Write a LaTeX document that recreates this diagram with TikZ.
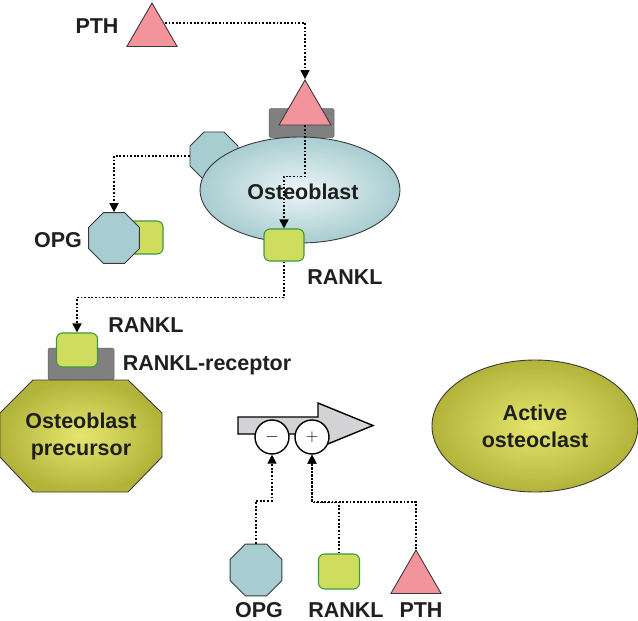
\documentclass[tikz,border=0pt]{standalone}
\usepackage{fontspec}
\setmainfont{Liberation Sans}
\usetikzlibrary{shapes.geometric,arrows.meta,calc}
\definecolor{pinkf}{HTML}{F3939B}
\definecolor{tealf}{HTML}{A8CDD1}
\definecolor{teali}{HTML}{EDF5F6}
\definecolor{greenf}{HTML}{CEDD5E}
\definecolor{greend}{HTML}{3C9A3C}
\definecolor{olivef}{HTML}{B2B43A}
\definecolor{olivei}{HTML}{E6E66E}
\definecolor{grayf}{HTML}{808080}
\definecolor{arrowf}{HTML}{D3D3D5}
\definecolor{edge}{HTML}{3A3A3A}
\tikzset{
  lbl/.style={font=\fontsize{21.5}{27}\selectfont\bfseries, text=black!88, inner sep=0pt, align=center},
  tri/.style={regular polygon, regular polygon sides=3, minimum size=58pt, inner sep=0pt, fill=pinkf, draw=edge, line width=0.9pt},
  octa/.style={regular polygon, regular polygon sides=8, inner sep=0pt, fill=tealf, draw=edge, line width=0.9pt},
  rsq/.style={rectangle, rounded corners=6pt, fill=greenf, draw=greend, line width=1.1pt, inner sep=0pt},
  recep/.style={rectangle, rounded corners=1.5pt, fill=grayf, draw=grayf!80!black, line width=0.5pt, inner sep=0pt},
  conn/.style={draw=black, line width=1.7pt, dash pattern=on 1.8pt off 1.8pt, -{Triangle[length=9pt,width=9pt]}},
  sign/.style={circle, fill=white, draw=black, line width=1.4pt, minimum size=34pt, inner sep=0pt, font=\fontsize{17}{17}\selectfont},
}
\begin{document}
\begin{tikzpicture}[x=1pt,y=-1pt]
\useasboundingbox (0,0) rectangle (638,621);
\fill[white] (0,0) rectangle (638,621);

% ---------- top part: osteoblast ----------
\node[tri] (pth1) at (152,32) {};
\node[lbl] (pthlbl1) at (97,26) {PTH};

\node[recep, minimum width=65pt, minimum height=29pt] (rec1) at (301.5,123) {};
\node[octa, minimum size=52pt] (opg1) at (214,156) {};
\node[ellipse, minimum width=200pt, minimum height=106pt, inner sep=0pt, draw=edge, line width=0.9pt, inner color=teali, outer color=tealf] (ob) at (300,190) {};
\node[lbl] (oblbl) at (303,192) {Osteoblast};
\node[tri, minimum size=60pt] (pth2) at (305,110) {};

\node[rsq, minimum width=38pt, minimum height=33pt] (opgr) at (144,237.5) {};
\node[octa, minimum size=55pt] (opg2) at (114,238) {};
\node[lbl] (opglbl1) at (58,240) {OPG};

\node[rsq, minimum width=40pt, minimum height=32pt] (rankl1) at (284,245) {};
\node[lbl] (rankllbl1) at (345,277) {RANKL};

% ---------- precursor ----------
\node[recep, minimum width=66pt, minimum height=32pt] (rec2) at (81,364) {};
\node[rsq, minimum width=41pt, minimum height=34pt] (rankl2) at (77,350) {};
\node[lbl] (rankllbl2) at (146,325) {RANKL};
\node[lbl] (receplbl) at (207,365) {RANKL-receptor};

\shade[inner color=olivei, outer color=olivef, draw=edge, line width=0.9pt]
  (33,380) -- (128,380) -- (162,413) -- (162,457) -- (128,492) -- (33,492) -- (0,457) -- (0,413) -- cycle;
\node[lbl] (prelbl) at (81,436.5) {Osteoblast\\precursor};

% ---------- active osteoclast ----------
\node[ellipse, minimum width=206pt, minimum height=132pt, inner sep=0pt, draw=edge, line width=0.9pt, inner color=olivei, outer color=olivef] (oc) at (535,426) {};
\node[lbl] (oclbl) at (535,426.5) {Active\\osteoclast};

% ---------- big arrow with signs ----------
\filldraw[fill=arrowf, draw=black, line width=1.4pt, line join=miter]
  (238,417) -- (318,417) -- (318,403) -- (373,425.5) -- (318,448) -- (318,434) -- (238,434) -- cycle;
\node[sign] (minus) at (272,437) {$-$};
\node[sign] (plus) at (312,437) {$+$};

% ---------- bottom legend ----------
\node[octa, minimum size=56pt] (opg3) at (256,570) {};
\node[rsq, minimum width=41pt, minimum height=35pt] (rankl3) at (339,571.5) {};
\node[tri] (pth3) at (416,579) {};
\node[lbl] (opglbl3) at (259,610) {OPG};
\node[lbl] (rankllbl3) at (346,610) {RANKL};
\node[lbl] (pthlbl3) at (421,610) {PTH};

% ---------- connectors ----------
\draw[conn] ($(pth1.center)+(13,-9)$) -| (pth2.north);
\draw[conn] (opg1.west) -| (opg2.north);
\draw[conn] (pth2.south) -- ++(0,51) -| (rankl1.north);
\draw[conn] (rankl1.south) -- ++(0,36) -| (rankl2.north);
\draw[conn] (opg3.north) -- ++(0,-43) -| (minus.south);
\draw[conn] (rankl3.north) -- ++(0,-51) -| (plus.south);
\draw[conn] (pth3.north) -- ++(0,-47) -| (plus.south);
\end{tikzpicture}
\end{document}
